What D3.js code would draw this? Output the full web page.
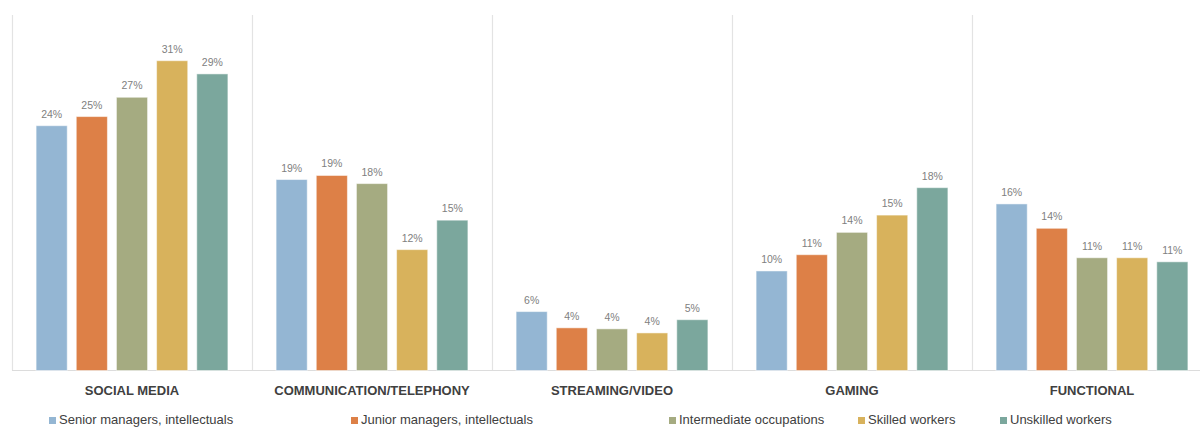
<!DOCTYPE html>
<html>
<head>
<meta charset="utf-8">
<script src="https://cdn.jsdelivr.net/npm/d3@7"></script>
<style>
  html, body { margin: 0; padding: 0; background: #fff; }
  svg { display: block; font-family: "Liberation Sans", Arial, sans-serif; }
</style>
</head>
<body>
<svg id="chart" width="1200" height="427"></svg>
<script>
// ---- data ----
const categories = ["SOCIAL MEDIA", "COMMUNICATION/TELEPHONY", "STREAMING/VIDEO", "GAMING", "FUNCTIONAL"];
const seriesNames = ["Senior managers, intellectuals", "Junior managers, intellectuals", "Intermediate occupations", "Skilled workers", "Unskilled workers"];
const seniorManagers    = [24.1, 18.8, 5.8,  9.8, 16.4];
const juniorManagers    = [25.0, 19.2, 4.2, 11.4, 14.0];
const intermediateOccup = [26.9, 18.4, 4.1, 13.6, 11.1];
const skilledWorkers    = [30.5, 11.9, 3.7, 15.3, 11.1];
const unskilledWorkers  = [29.2, 14.8, 5.0, 18.0, 10.7];
const seriesValues = [seniorManagers, juniorManagers, intermediateOccup, skilledWorkers, unskilledWorkers];
const colors = ["#94b6d3", "#dd8047", "#a5ab81", "#d8b25c", "#7ba79d"];

// ---- layout ----
const svg = d3.select("#chart");
const plot = { left: 12, right: 1212, top: 15, bottom: 370.5 };

const x0 = d3.scaleBand().domain(categories).range([plot.left, plot.right]).paddingInner(0).paddingOuter(0);
const x1 = d3.scaleBand().domain(seriesNames).range([0, x0.bandwidth()]).paddingInner(0.225).paddingOuter(0.6);
const y = d3.scaleLinear().domain([0, 35]).range([plot.bottom, plot.top]);

// separators
const sepX = categories.map(c => x0(c));
svg.append("g").selectAll("line").data(sepX).join("line")
  .attr("x1", d => d + 0.5).attr("x2", d => d + 0.5)
  .attr("y1", plot.top).attr("y2", plot.bottom)
  .attr("stroke", "#e3e3e3").attr("stroke-width", 1.2);

// baseline
svg.append("line")
  .attr("x1", plot.left).attr("x2", 1200)
  .attr("y1", plot.bottom).attr("y2", plot.bottom)
  .attr("stroke", "#dcdcdc").attr("stroke-width", 1.2);

const fmt = d => d3.format(".0f")(d) + "%";

const groups = svg.append("g").selectAll("g").data(categories).join("g")
  .attr("transform", c => `translate(${x0(c)},0)`);

groups.each(function(c, ci) {
  const g = d3.select(this);
  const data = seriesNames.map((s, si) => ({ s, si, v: seriesValues[si][ci] }));
  g.selectAll("rect").data(data).join("rect")
    .attr("x", d => x1(d.s))
    .attr("width", x1.bandwidth())
    .attr("y", d => y(d.v))
    .attr("height", d => y(0) - y(d.v))
    .attr("fill", d => colors[d.si])
    .attr("stroke", "#ffffff").attr("stroke-opacity", 0.5).attr("stroke-width", 1);
  g.selectAll("text").data(data).join("text")
    .attr("x", d => x1(d.s) + x1.bandwidth() / 2)
    .attr("y", d => y(d.v) - 8)
    .attr("text-anchor", "middle")
    .attr("font-size", "10.5px")
    .attr("fill", "#808080")
    .text(d => fmt(d.v));
});

// category labels
svg.append("g").selectAll("text").data(categories).join("text")
  .attr("x", c => x0(c) + x0.bandwidth() / 2)
  .attr("y", 395)
  .attr("text-anchor", "middle")
  .attr("font-size", "13px")
  .attr("font-weight", "bold")
  .attr("fill", "#404040")
  .text(c => c);

// legend
const legendX = [49, 351, 669, 858, 1000];
const leg = svg.append("g").selectAll("g").data(seriesNames).join("g")
  .attr("transform", (d, i) => `translate(${legendX[i]},0)`);
leg.append("rect").attr("x", 0).attr("y", 417).attr("width", 7).attr("height", 7)
  .attr("fill", (d, i) => colors[i]);
leg.append("text").attr("x", 10).attr("y", 424)
  .attr("font-size", "13px").attr("fill", "#404040")
  .text(d => d);
</script>
</body>
</html>
